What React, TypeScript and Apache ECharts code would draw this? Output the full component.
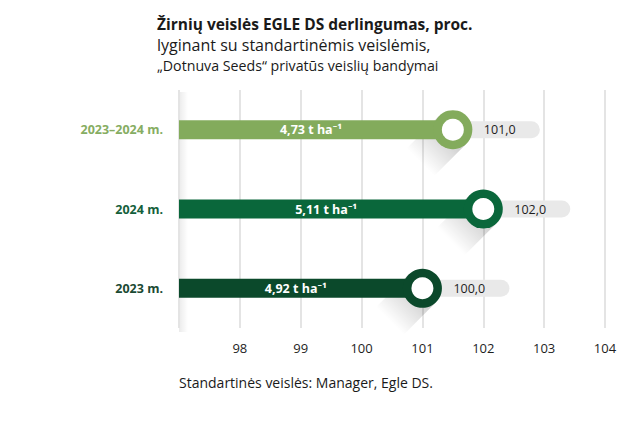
import React, { useEffect, useRef } from "react";
import * as echarts from "echarts";

const categories = ["2023–2024 m.", "2024 m.", "2023 m."];
const markerPositions = [101.5, 102.0, 101.0];
const relativeLabels = ["101,0", "102,0", "100,0"];
const yieldLabels = ["4,73", "5,11", "4,92"];
const barColors = ["#83ab5c", "#0a673b", "#0b492b"];
const labelColors = ["#86ad62", "#145f3b", "#1b4a33"];
const titleLines = [
  "Žirnių veislės EGLE DS derlingumas, proc.",
  "lyginant su standartinėmis veislėmis,",
  "„Dotnuva Seeds“ privatūs veislių bandymai",
];
const footnote = "Standartinės veislės: Manager, Egle DS.";

const FONT = "'Open Sans', 'Noto Sans', sans-serif";

export default function App() {
  const ref = useRef<HTMLDivElement>(null);
  useEffect(() => {
    if (!ref.current) return;
    const chart = echarts.init(ref.current, null, { renderer: "svg" });
    const xMin = 97;
    const option: any = {
      animation: false,
      backgroundColor: "#ffffff",
      textStyle: { fontFamily: FONT },
      grid: { left: 179, right: 23, top: 90, bottom: 97, containLabel: false },
      xAxis: {
        type: "value",
        min: xMin,
        max: 104,
        interval: 1,
        axisLine: { show: false },
        axisTick: { show: false },
        splitLine: { show: true, lineStyle: { color: "#e4e4e4", width: 2 } },
        axisLabel: {
          showMinLabel: false,
          margin: 13,
          color: "#1e1e1e",
          fontSize: 13,
          fontFamily: FONT,
        },
      },
      yAxis: {
        type: "category",
        data: categories,
        inverse: true,
        axisLine: { show: false },
        axisTick: { show: false },
        splitLine: { show: false },
        axisLabel: {
          margin: 16,
          formatter: (v: string) => {
            const i = categories.indexOf(v);
            return `{c${i}|${v}}`;
          },
          rich: Object.fromEntries(
            labelColors.map((c, i) => [
              `c${i}`,
              { color: c, fontWeight: "bold", fontSize: 12.5, fontFamily: FONT },
            ])
          ),
        },
      },
      graphic: [
        {
          type: "rect",
          left: 179,
          top: 92,
          shape: { width: 9, height: 240 },
          silent: true,
          style: {
            fill: new echarts.graphic.LinearGradient(0, 0, 1, 0, [
              { offset: 0, color: "rgba(0,0,0,0.08)" },
              { offset: 1, color: "rgba(0,0,0,0)" },
            ]),
          },
        },
        {
          type: "text",
          left: 157,
          top: 15,
          style: { text: titleLines[0], fill: "#1a1a1a", font: `bold 15.5px ${FONT}`, lineHeight: 17 },
        },
        {
          type: "text",
          left: 157,
          top: 36,
          style: { text: titleLines[1], fill: "#1a1a1a", font: `16px ${FONT}`, lineHeight: 18 },
        },
        {
          type: "text",
          left: 157,
          top: 57,
          style: { text: titleLines[2], fill: "#1a1a1a", font: `14.2px ${FONT}`, lineHeight: 16 },
        },
        {
          type: "text",
          left: 179,
          top: 375,
          style: { text: footnote, fill: "#1a1a1a", font: `14px ${FONT}` },
        },
      ],
      series: [
        {
          type: "custom",
          encode: { x: 1, y: 0 },
          data: categories.map((_, i) => [i, markerPositions[i]]),
          renderItem: (params: any, api: any) => {
            const i = api.value(0);
            const end = api.value(1);
            const start = api.coord([xMin, i]);
            const c = api.coord([end, i]);
            const cx = c[0];
            const cy = c[1];
            const barH = 19;
            const rOut = 19.5;
            const rIn = 11;
            const color = barColors[i];
            const s = Math.SQRT1_2;
            const L = 46;
            const p1 = [cx + rOut * s, cy + rOut * s];
            const p2 = [cx - rOut * s, cy - rOut * s];
            const p3 = [p2[0] - L * s, p2[1] + L * s];
            const p4 = [p1[0] - L * s, p1[1] + L * s];
            return {
              type: "group",
              children: [
                {
                  type: "polygon",
                  shape: { points: [p1, p2, p3, p4] },
                  style: {
                    fill: new echarts.graphic.LinearGradient(
                      cx, cy, cx - L * s, cy + L * s,
                      [
                        { offset: 0, color: "rgba(0,0,0,0.22)" },
                        { offset: 1, color: "rgba(0,0,0,0)" },
                      ],
                      true
                    ),
                  },
                },
                {
                  type: "rect",
                  shape: { x: cx, y: cy - 8.5, width: 87, height: 17, r: 8.5 },
                  style: { fill: "#e9e9e9" },
                },
                {
                  type: "text",
                  x: cx + 31,
                  y: cy,
                  style: {
                    text: relativeLabels[i],
                    fill: "#1e1e1e",
                    font: `12.5px ${FONT}`,
                    verticalAlign: "middle",
                    align: "left",
                  },
                },
                {
                  type: "rect",
                  shape: { x: start[0], y: cy - barH / 2, width: cx - start[0], height: barH },
                  style: { fill: color },
                },
                {
                  type: "text",
                  x: (start[0] + cx) / 2 - 5,
                  y: cy,
                  style: {
                    text: `${yieldLabels[i]} t ha⁻¹`,
                    fill: "#ffffff",
                    font: `bold 12.5px ${FONT}`,
                    verticalAlign: "middle",
                    align: "center",
                  },
                },
                { type: "circle", shape: { cx, cy, r: rOut }, style: { fill: color } },
                { type: "circle", shape: { cx, cy, r: rIn }, style: { fill: "#ffffff" } },
              ],
            };
          },
        },
      ],
    };
    chart.setOption(option);
    return () => chart.dispose();
  }, []);
  return (
    <div
      ref={ref}
      style={{ position: "absolute", left: 0, top: 0, width: 628, height: 425 }}
    />
  );
}
